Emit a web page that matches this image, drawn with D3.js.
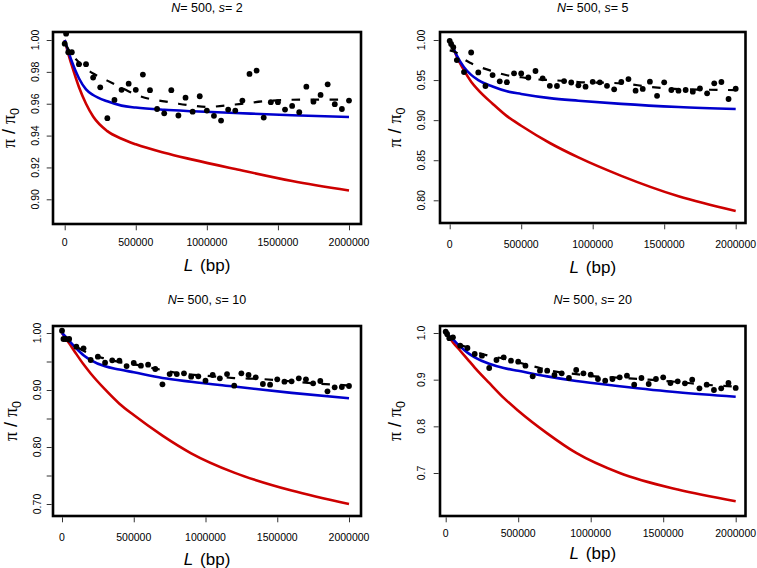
<!DOCTYPE html>
<html><head><meta charset="utf-8">
<script src="https://cdn.jsdelivr.net/npm/d3@7"></script>
<style>
body{margin:0;background:#fff}
svg{display:block}
text{font-family:"Liberation Sans",Arial,Helvetica,sans-serif;fill:#000}
</style>
</head><body>
<svg id="chart" width="757" height="568"></svg>
<script>
// ---------------- data ----------------
const L = [0,10000,25000,50000,100000,150000,200000,250000,300000,350000,400000,450000,500000,550000,600000,650000,700000,750000,800000,850000,900000,950000,1000000,1050000,1100000,1150000,1200000,1250000,1300000,1350000,1400000,1450000,1500000,1550000,1600000,1650000,1700000,1750000,1800000,1850000,1900000,1950000,2000000];

const simS2  = [0.9977,1.004,0.9923,0.9923,0.9848,0.9848,0.9764,0.9703,0.9509,0.9624,0.9687,0.9726,0.9687,0.9783,0.9685,0.9567,0.954,0.9685,0.9526,0.9638,0.955,0.9647,0.9557,0.9524,0.9494,0.9563,0.9557,0.962,0.9787,0.9808,0.9513,0.961,0.961,0.9563,0.9586,0.9547,0.9707,0.9613,0.9655,0.9722,0.9597,0.9567,0.962];
const simS5  = [0.999,0.995,0.991,0.975,0.960,0.9844,0.9595,0.9426,0.9563,0.9484,0.9474,0.9584,0.9582,0.9532,0.9613,0.9522,0.9428,0.9426,0.9488,0.947,0.9435,0.9418,0.9478,0.9472,0.9428,0.9384,0.9476,0.9513,0.9368,0.939,0.948,0.9303,0.9472,0.9376,0.9368,0.9376,0.9355,0.9395,0.9335,0.946,0.9476,0.9264,0.9392];
const simS10 = [1.004,0.9895,0.9895,0.9895,0.976,0.9731,0.9526,0.9585,0.948,0.952,0.9515,0.942,0.9474,0.9427,0.9444,0.9368,0.910,0.928,0.928,0.9292,0.9234,0.924,0.9164,0.9263,0.9205,0.928,0.9076,0.9292,0.9263,0.9222,0.9105,0.9093,0.9187,0.9146,0.9152,0.9205,0.9187,0.9117,0.9158,0.8977,0.9047,0.9053,0.907];
const simS20 = [1.0028,0.998,0.989,0.9908,0.9728,0.9679,0.955,0.9514,0.925,0.9421,0.9479,0.9407,0.9386,0.930,0.9072,0.9192,0.9192,0.910,0.9136,0.9036,0.9207,0.9136,0.9107,0.9014,0.8979,0.9014,0.905,0.9086,0.8893,0.9036,0.8907,0.9014,0.905,0.8929,0.8965,0.8922,0.900,0.8815,0.8893,0.8779,0.8815,0.8929,0.8822];

// theoretical curves
const curveL = [0,25000,50000,100000,150000,200000,300000,400000,500000,700000,900000,1200000,1600000,2000000];
const blueS2  = [1.0,0.993,0.9865,0.976,0.969,0.9655,0.9615,0.9588,0.9576,0.9562,0.9553,0.9542,0.9528,0.9517];
const redS2   = [1.0,0.9915,0.984,0.9705,0.960,0.952,0.9428,0.938,0.9345,0.9292,0.9249,0.919,0.9115,0.9055];
const blueS5  = [1.0,0.990,0.9805,0.966,0.9565,0.950,0.942,0.936,0.9327,0.9275,0.9243,0.9203,0.9164,0.9139];
const redS5   = [1.0,0.990,0.979,0.962,0.948,0.9375,0.9205,0.905,0.893,0.8715,0.8535,0.8305,0.805,0.7867];
const blueS10 = [1.0,0.9935,0.9865,0.973,0.961,0.9525,0.9415,0.936,0.931,0.921,0.9145,0.906,0.895,0.8854];
const redS10  = [1.0,0.991,0.982,0.963,0.945,0.929,0.901,0.876,0.856,0.820,0.789,0.755,0.7235,0.700];
const blueS20 = [1.0,0.993,0.986,0.971,0.958,0.948,0.934,0.925,0.919,0.907,0.897,0.886,0.873,0.8635];
const redS20  = [1.0,0.990,0.980,0.962,0.944,0.926,0.893,0.861,0.8335,0.785,0.743,0.700,0.6645,0.6394];

// smoothed simulation trend (dashed)
const smoothL = [0,50000,100000,150000,200000,300000,400000,500000,600000,700000,800000,900000,1000000,1200000,1400000,1600000,1800000,2000000];
const smoothS2  = [0.998,0.991,0.986,0.982,0.979,0.9745,0.970,0.9657,0.963,0.9615,0.960,0.9588,0.958,0.9595,0.9615,0.9625,0.9626,0.9626];
const smoothS5  = [0.987,0.984,0.976,0.971,0.967,0.961,0.956,0.9535,0.951,0.950,0.949,0.9475,0.947,0.946,0.9415,0.9388,0.938,0.9375];
const smoothS10 = [0.99,0.985,0.976,0.969,0.963,0.955,0.949,0.945,0.940,0.935,0.930,0.927,0.925,0.921,0.919,0.915,0.911,0.908];
const smoothS20 = [0.995,0.985,0.975,0.969,0.961,0.951,0.945,0.937,0.929,0.921,0.915,0.912,0.908,0.904,0.900,0.895,0.889,0.885];

const xTicks = [0,500000,1000000,1500000,2000000];
const yTicksS2  = [0.90,0.92,0.94,0.96,0.98,1.00];
const yTicksS5  = [0.80,0.85,0.90,0.95,1.00];
const yTicksS10 = [0.70,0.75,0.80,0.85,0.90,0.95,1.00];
const yLabelsS10 = [0.70,0.80,0.90,1.00];
const yTicksS20 = [0.7,0.8,0.9,1.0];
const sValues = [2,5,10,20];
const N = 500;

// ---------------- layout ----------------
const panels = [
  {s:sValues[0], sim:simS2,  blue:blueS2,  red:redS2,  smooth:smoothS2,  yTicks:yTicksS2,  yLabels:yTicksS2,  fmt:".2f",
   box:[53,32,361,224],   xr:[64.7,349],   yd:[1.00,0.90], yr:[40,199.3],  titleY:7,   xlabY:242, xtitY:265, ylabX:35,  ytitX:9},
  {s:sValues[1], sim:simS5,  blue:blueS5,  red:redS5,  smooth:smoothS5,  yTicks:yTicksS5,  yLabels:yTicksS5,  fmt:".2f",
   box:[440,32,745.5,223], xr:[449.7,735.7], yd:[1.00,0.80], yr:[40,200.3], titleY:7,   xlabY:244, xtitY:267, ylabX:421, ytitX:395},
  {s:sValues[2], sim:simS10, blue:blueS10, red:redS10, smooth:smoothS10, yTicks:yTicksS10, yLabels:yLabelsS10, fmt:".2f",
   box:[53,326,361,516],  xr:[62,349],     yd:[1.00,0.70], yr:[333,504],   titleY:299, xlabY:537, xtitY:559, ylabX:37,  ytitX:11},
  {s:sValues[3], sim:simS20, blue:blueS20, red:redS20, smooth:smoothS20, yTicks:yTicksS20, yLabels:yTicksS20, fmt:".1f",
   box:[440,326,745.5,516], xr:[445.7,735.7], yd:[1.0,0.7], yr:[333,473],  titleY:299, xlabY:533, xtitY:553, ylabX:421, ytitX:395}
];

const svg = d3.select("#chart");
const tickFont = 10.5;

panels.forEach((p,i) => {
  const [l,t,r,b] = p.box;
  const x = d3.scaleLinear().domain([0,2000000]).range(p.xr);
  const y = d3.scaleLinear().domain(p.yd).range(p.yr);
  const g = svg.append("g");
  const cid = "clip"+i;
  g.append("clipPath").attr("id",cid).append("rect").attr("x",l).attr("y",t).attr("width",r-l).attr("height",b-t);
  const plot = g.append("g").attr("clip-path",`url(#${cid})`);

  const theoryLine = d3.line().x(d=>x(d[0])).y(d=>y(d[1])).curve(d3.curveMonotoneX);
  const trendLine = d3.line().x(d=>x(d[0])).y(d=>y(d[1])).curve(d3.curveMonotoneX);

  plot.append("path").datum(d3.zip(curveL,p.red)).attr("d",theoryLine)
      .attr("fill","none").attr("stroke","#cd0000").attr("stroke-width",2.6);
  plot.append("path").datum(d3.zip(curveL,p.blue)).attr("d",theoryLine)
      .attr("fill","none").attr("stroke","#0000cd").attr("stroke-width",2.6);
  plot.append("path").datum(d3.zip(smoothL,p.smooth)).attr("d",trendLine)
      .attr("fill","none").attr("stroke","#000").attr("stroke-width",2.2).attr("stroke-dasharray","8.5,10.5");
  plot.selectAll("circle").data(d3.zip(L,p.sim)).join("circle")
      .attr("cx",d=>x(d[0])).attr("cy",d=>y(d[1])).attr("r",2.9).attr("fill","#000");

  // box
  g.append("rect").attr("x",l).attr("y",t).attr("width",r-l).attr("height",b-t)
    .attr("fill","none").attr("stroke","#000").attr("stroke-width",2.6);

  // x axis
  const xa = g.append("g").attr("transform",`translate(0,${b+1.3})`)
    .call(d3.axisBottom(x).tickValues(xTicks).tickSize(5).tickFormat(""));
  xa.select(".domain").remove();
  xa.selectAll("line").attr("stroke","#333");
  g.selectAll("text.xl").data(xTicks).join("text").attr("class","xl")
    .attr("x",d=>x(d)).attr("y",p.xlabY).attr("dy","0.36em").attr("text-anchor","middle")
    .style("font-size",tickFont+"px").text(d3.format("d"));

  // y axis
  const ya = g.append("g").attr("transform",`translate(${l-1.3},0)`)
    .call(d3.axisLeft(y).tickValues(p.yTicks).tickSize(5).tickFormat(""));
  ya.select(".domain").remove();
  ya.selectAll("line").attr("stroke","#333");
  g.selectAll("text.yl").data(p.yLabels).join("text").attr("class","yl")
    .attr("transform",d=>`translate(${p.ylabX},${y(d)}) rotate(-90)`)
    .attr("dy","0.36em").attr("text-anchor","middle")
    .style("font-size",tickFont+"px").text(d3.format(p.fmt));

  const cx = (l+r)/2, cy = (t+b)/2;
  // title
  const tt = g.append("text").attr("x",cx).attr("y",p.titleY).attr("dy","0.36em")
    .attr("text-anchor","middle").style("font-size","12.5px");
  tt.append("tspan").style("font-style","italic").text("N");
  tt.append("tspan").text("= " + N + ", ");
  tt.append("tspan").style("font-style","italic").text("s");
  tt.append("tspan").text("= " + p.s);

  // x title
  const xt = g.append("text").attr("x",cx).attr("y",p.xtitY).attr("dy","0.36em")
    .attr("text-anchor","middle").style("font-size","17px");
  xt.append("tspan").style("font-style","italic").text("L");
  xt.append("tspan").attr("dx",7).text("(bp)");

  // y title
  const yt = g.append("text").attr("transform",`translate(${p.ytitX},${cy}) rotate(-90)`)
    .attr("dy","0.36em").attr("text-anchor","middle").style("font-size","18px");
  yt.append("tspan").style("font-family","'Liberation Serif','DejaVu Serif',serif").text("\u03C0");
  yt.append("tspan").text(" / ");
  yt.append("tspan").style("font-family","'Liberation Serif','DejaVu Serif',serif").text("\u03C0");
  yt.append("tspan").attr("dy","0.3em").style("font-size","12.5px").text("0");
});
</script>
</body></html>
